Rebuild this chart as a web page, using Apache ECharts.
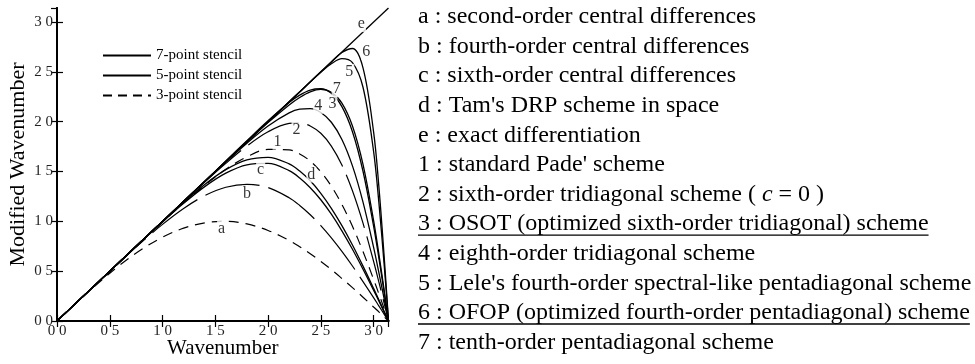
<!DOCTYPE html>
<html>
<head>
<meta charset="utf-8">
<style>
  html, body { margin: 0; padding: 0; background: #fff; }
  #chart { width: 975px; height: 364px; }
</style>
<script src="https://cdn.jsdelivr.net/npm/echarts@6.0.0/dist/echarts.min.js"></script>
</head>
<body>
<div id="chart"></div>
<script>
// wavenumber samples shared by all scheme curves
const wavenumbers = [0, 0.2, 0.4, 0.6, 0.8, 1.0, 1.2, 1.4, 1.6, 1.8, 2.0, 2.2, 2.3, 2.4, 2.5, 2.6, 2.7, 2.8, 2.9, 3.0, 3.05, 3.1, 3.1416];

// modified wavenumber
const curveA = [0, 0.199, 0.389, 0.565, 0.717, 0.841, 0.932, 0.985, 1.000, 0.974, 0.909, 0.809, 0.746, 0.675, 0.598, 0.516, 0.427, 0.335, 0.239, 0.141, 0.091, 0.042, 0];
const curveB = [0, 0.200, 0.400, 0.598, 0.790, 0.970, 1.130, 1.258, 1.342, 1.372, 1.339, 1.237, 1.160, 1.067, 0.958, 0.835, 0.699, 0.552, 0.396, 0.235, 0.152, 0.069, 0];
const curveC = [0, 0.200, 0.400, 0.600, 0.799, 0.994, 1.181, 1.349, 1.484, 1.568, 1.582, 1.509, 1.436, 1.338, 1.217, 1.072, 0.905, 0.720, 0.520, 0.309, 0.201, 0.091, 0];
const curveD = [0, 0.200, 0.400, 0.600, 0.801, 1.000, 1.193, 1.371, 1.519, 1.617, 1.643, 1.577, 1.505, 1.407, 1.282, 1.131, 0.957, 0.763, 0.551, 0.328, 0.213, 0.097, 0];
const curve1 = [0, 0.200, 0.400, 0.600, 0.798, 0.994, 1.184, 1.362, 1.522, 1.648, 1.722, 1.718, 1.677, 1.605, 1.498, 1.353, 1.170, 0.950, 0.697, 0.419, 0.273, 0.125, 0];
const curve2 = [0, 0.200, 0.400, 0.600, 0.800, 0.999, 1.198, 1.394, 1.582, 1.756, 1.899, 1.983, 1.988, 1.958, 1.884, 1.756, 1.565, 1.307, 0.982, 0.600, 0.393, 0.180, 0];
const curve3 = [0, 0.200, 0.400, 0.600, 0.800, 1.000, 1.201, 1.403, 1.606, 1.810, 2.010, 2.193, 2.267, 2.318, 2.331, 2.285, 2.152, 1.900, 1.503, 0.955, 0.634, 0.292, 0];
const curve4 = [0, 0.200, 0.400, 0.600, 0.800, 1.000, 1.200, 1.399, 1.595, 1.785, 1.957, 2.089, 2.126, 2.131, 2.093, 1.995, 1.822, 1.557, 1.194, 0.741, 0.488, 0.224, 0];
const curve5 = [0, 0.200, 0.400, 0.600, 0.800, 1.000, 1.201, 1.401, 1.601, 1.801, 2.000, 2.200, 2.300, 2.400, 2.497, 2.582, 2.633, 2.593, 2.346, 1.705, 1.193, 0.569, 0];
const curve6 = [0, 0.200, 0.400, 0.600, 0.800, 1.000, 1.201, 1.401, 1.601, 1.801, 1.999, 2.198, 2.298, 2.400, 2.502, 2.601, 2.695, 2.735, 2.540, 1.900, 1.354, 0.654, 0];
const curve7 = [0, 0.200, 0.400, 0.600, 0.800, 1.000, 1.200, 1.400, 1.599, 1.798, 1.991, 2.169, 2.244, 2.300, 2.324, 2.296, 2.187, 1.957, 1.571, 1.011, 0.674, 0.312, 0];
// exact differentiation: straight line
const exactX = [0, 3.1416];
const exactY = [0, 3.1416];

// curve tags and where they sit
const tagNames = ['a', 'b', 'c', 'd', 'e', '1', '2', '3', '4', '5', '6', '7'];
const tagX = [1.56, 1.80, 1.93, 2.41, 2.885, 2.09, 2.27, 2.61, 2.475, 2.77, 2.93, 2.65];
const tagY = [0.93, 1.28, 1.52, 1.47, 2.98, 1.80, 1.92, 2.18, 2.16, 2.50, 2.70, 2.33];

const stencilNames = ['7-point stencil', '5-point stencil', '3-point stencil'];

const notes = [
  'a : second-order central differences',
  'b : fourth-order central differences',
  'c : sixth-order central differences',
  "d : Tam's DRP scheme in space",
  'e : exact differentiation',
  "1 : standard Pade' scheme",
  '2 : sixth-order tridiagonal scheme ( {it|c} = 0 )',
  '3 : OSOT (optimized sixth-order tridiagonal) scheme',
  '4 : eighth-order tridiagonal scheme',
  "5 : Lele's fourth-order spectral-like pentadiagonal scheme",
  '6 : OFOP (optimized fourth-order pentadiagonal) scheme',
  '7 : tenth-order pentadiagonal scheme'
];
const underlined = [7, 10];

const serif = '"Liberation Serif", "DejaVu Serif", serif';

// line styles per stencil width
const styles = {
  seven: { color: '#000', width: 1.3, type: 'solid' },
  five: { color: '#000', width: 1.2, type: [56, 9] },
  three: { color: '#000', width: 1.2, type: [10, 7] }
};

const toPairs = (xs, ys) => xs.map((x, i) => [x, ys[i]]);

const curve = (name, ys, style) => ({
  name: name,
  type: 'line',
  data: toPairs(wavenumbers, ys),
  smooth: 0.35,
  symbol: 'none',
  lineStyle: style,
  itemStyle: { color: '#000' },
  z: 2,
  silent: true
});

// legend-only entry, no data
const stencil = (name, style) => ({
  name: name,
  type: 'line',
  data: [],
  symbol: 'none',
  symbolSize: 0,
  itemStyle: { color: '#000', opacity: 0 },
  lineStyle: style
});

const series = [
  curve('a', curveA, styles.three),
  curve('b', curveB, styles.five),
  curve('c', curveC, styles.seven),
  curve('d', curveD, styles.seven),
  curve('1', curve1, styles.three),
  curve('2', curve2, styles.five),
  curve('3', curve3, styles.seven),
  curve('4', curve4, styles.seven),
  curve('5', curve5, styles.seven),
  curve('6', curve6, styles.seven),
  curve('7', curve7, styles.seven),
  {
    name: 'e', type: 'line', data: toPairs(exactX, exactY), symbol: 'none',
    lineStyle: { color: '#000', width: 1.3 }, z: 2, silent: true
  },
  stencil(stencilNames[0], { color: '#000', width: 1.8 }),
  stencil(stencilNames[1], { color: '#000', width: 1.2 }),
  stencil(stencilNames[2], { color: '#000', width: 1.2, type: [9, 6] }),
  // curve tags, white box breaks the line underneath
  {
    type: 'scatter',
    symbolSize: 0,
    z: 5,
    silent: true,
    data: tagNames.map((t, i) => ({ name: t, value: [tagX[i], tagY[i]] })),
    label: {
      show: true,
      position: 'inside',
      formatter: p => p.name,
      fontFamily: serif,
      fontSize: 16,
      color: '#000',
      backgroundColor: '#fff',
      padding: [0, 1]
    }
  }
];

// right-hand notes
const noteFont = 24;
const noteLeft = 418;
const noteTop = 17;
const noteStep = 29.6;
const measure = document.createElement('canvas').getContext('2d');
measure.font = noteFont + 'px ' + serif;

const graphic = [];
notes.forEach((t, i) => {
  const y = noteTop + i * noteStep;
  graphic.push({
    type: 'text',
    x: noteLeft,
    y: y,
    silent: true,
    style: {
      text: t,
      fontFamily: serif,
      fontSize: noteFont,
      fill: '#000',
      verticalAlign: 'middle',
      rich: { it: { fontStyle: 'italic', fontFamily: serif, fontSize: noteFont } }
    }
  });
  if (underlined.includes(i)) {
    const w = measure.measureText(t).width;
    graphic.push({
      type: 'line',
      silent: true,
      shape: { x1: noteLeft, y1: y + 11, x2: noteLeft + w, y2: y + 11 },
      style: { stroke: '#000', lineWidth: 1.3 }
    });
  }
});

const tickFmt = v => v.toFixed(1).replace('.', ' ');
const frameLine = { show: true, lineStyle: { color: '#000', width: 2 } };
const tickIn = { show: true, inside: true, length: 6, lineStyle: { color: '#000', width: 1.2 } };
const axisFont = { fontFamily: serif, fontSize: 15, color: '#222' };

const option = {
  backgroundColor: '#fff',
  animation: false,
  grid: { left: 57, right: 586.5, top: 8, bottom: 43, outerBoundsMode: 'none' },
  legend: {
    data: stencilNames,
    orient: 'vertical',
    left: 97,
    top: 43,
    itemWidth: 48,
    itemHeight: 14,
    itemGap: 5,
    selectedMode: false,
    itemStyle: { opacity: 0 },
    textStyle: { fontFamily: serif, fontSize: 15, color: '#000' }
  },
  xAxis: [
    {
      type: 'value', min: 0, max: Math.PI, interval: 0.5, position: 'bottom',
      name: 'Wavenumber', nameLocation: 'middle', nameGap: 17, nameMoveOverlap: false,
      nameTextStyle: { fontFamily: serif, fontSize: 21, color: '#000' },
      axisLine: frameLine, axisTick: tickIn,
      axisLabel: Object.assign({ formatter: tickFmt, margin: 3, showMaxLabel: false }, axisFont),
      splitLine: { show: false }
    },
    {
      type: 'value', min: 0, max: Math.PI, interval: 0.5, position: 'top',
      axisLine: frameLine, axisTick: tickIn, axisLabel: { show: false }, splitLine: { show: false }
    }
  ],
  yAxis: [
    {
      type: 'value', min: 0, max: Math.PI, interval: 0.5, position: 'left',
      name: 'Modified Wavenumber', nameLocation: 'middle', nameGap: 28, nameRotate: 90,
      nameTextStyle: { fontFamily: serif, fontSize: 22, color: '#000' },
      axisLine: frameLine, axisTick: tickIn,
      axisLabel: Object.assign({ formatter: tickFmt, margin: 4, showMaxLabel: false }, axisFont),
      splitLine: { show: false }
    },
    {
      type: 'value', min: 0, max: Math.PI, interval: 0.5, position: 'right',
      axisLine: frameLine, axisTick: tickIn, axisLabel: { show: false }, splitLine: { show: false }
    }
  ],
  graphic: graphic,
  series: series
};

const chart = echarts.init(document.getElementById('chart'));
chart.setOption(option);
window.addEventListener('resize', () => chart.resize());
</script>
</body>
</html>
